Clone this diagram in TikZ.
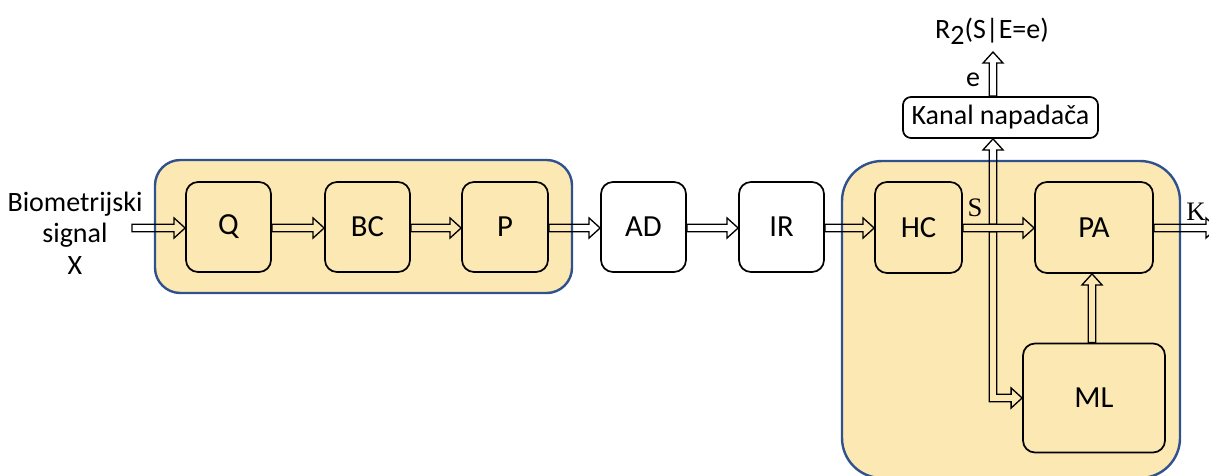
\documentclass[tikz,border=0pt]{standalone}
\usepackage{fontspec}
\setmainfont{Carlito}
\newfontfamily\serifsym{Liberation Serif}
\usetikzlibrary{arrows.meta,calc}
\definecolor{groupfill}{RGB}{252,232,178}
\definecolor{groupline}{RGB}{47,82,143}
% half shaft width, half head width, head length (pt)
\def\shw{2.8pt}
\def\hhw{7.5pt}
\def\hlen{8.3pt}
\begin{document}
\begin{tikzpicture}[x=0.75pt,y=-0.75pt,
  blk/.style={draw=black, line width=1.3pt, rounded corners=9pt, align=center,
    font=\fontsize{23}{26}\selectfont, inner sep=0pt},
  group/.style={draw=groupline, line width=1.8pt, fill=groupfill},
  outl/.style={draw=black, line width=1pt, line join=miter},
  % hollow block arrow drawn as an outline from start to target
  barrow/.style={outl, to path={
    let \p1=(\tikztostart), \p2=(\tikztotarget),
        \n1={atan2(\y2-\y1,\x2-\x1)} in
    ($(\p1)+(\n1+90:\shw)$)
    -- ($(\p2)+(\n1+180:\hlen)+(\n1+90:\shw)$)
    -- ($(\p2)+(\n1+180:\hlen)+(\n1+90:\hhw)$)
    -- (\p2)
    -- ($(\p2)+(\n1+180:\hlen)+(\n1-90:\hhw)$)
    -- ($(\p2)+(\n1+180:\hlen)+(\n1-90:\shw)$)
    -- ($(\p1)+(\n1-90:\shw)$) -- cycle}},
  lbl/.style={font=\fontsize{21}{24}\selectfont, inner sep=0pt},
  sym/.style={font=\serifsym\fontsize{20}{24}\selectfont, inner sep=0pt}]
\useasboundingbox (0,0) rectangle (1209,475);
\clip (0,0) rectangle (1209,475);

% group backgrounds
\draw[group, rounded corners=19pt] (155,160) rectangle (572,293);
\draw[group, rounded corners=30pt] (842,161) rectangle (1180,478);

% blocks of the first group
\node[blk, fill=groupfill, minimum width={85*0.75pt}, minimum height={90*0.75pt}] (Q) at (228.5,227) {Q};
\node[blk, fill=groupfill, minimum width={85*0.75pt}, minimum height={90*0.75pt}] (BC) at (367.5,227) {BC};
\node[blk, fill=groupfill, minimum width={86*0.75pt}, minimum height={90*0.75pt}] (P) at (505,227) {P};

% stand-alone blocks
\node[blk, fill=white, minimum width={85*0.75pt}, minimum height={90*0.75pt}] (AD) at (643.5,227) {AD};
\node[blk, fill=white, minimum width={85*0.75pt}, minimum height={90*0.75pt}] (IR) at (781.5,227) {IR};

% blocks of the second group
\node[blk, fill=groupfill, minimum width={87*0.75pt}, minimum height={91*0.75pt}] (HC) at (918.5,227.5) {HC};
\node[blk, fill=groupfill, minimum width={118*0.75pt}, minimum height={91*0.75pt}] (PA) at (1094,227.5) {PA};
\node[blk, fill=groupfill, minimum width={142*0.75pt}, minimum height={109*0.75pt}] (ML) at (1094,398) {ML};
\node[blk, fill=white, minimum width={195*0.75pt}, minimum height={41*0.75pt}, rounded corners=6pt,
  font=\fontsize{21}{24}\selectfont] (KN) at (1000.5,117.5) {Kanal napadača};

% input label
\node[lbl, align=center, font=\fontsize{21}{23.5}\selectfont] (in) at (75,233) {Biometrijski\\signal\\X};
\coordinate (src) at (132,228);
\coordinate (jS) at (993,228);
\coordinate (kout) at (1217,228);
\coordinate (eout) at (993,52);
\coordinate (mlx) at (1092,0);

% connectors along the main chain
\draw[barrow] (src) to (src -| Q.west);
\draw[barrow] (Q.east |- src) to (BC.west |- src);
\draw[barrow] (BC.east |- src) to (P.west |- src);
\draw[barrow] (P.east |- src) to (AD.west |- src);
\draw[barrow] (AD.east |- src) to (IR.west |- src);
\draw[barrow] (IR.east |- src) to (HC.west |- src);
\draw[barrow] (HC.east |- src) to (PA.west |- src);
\draw[barrow] (PA.east |- src) to (kout);
\draw[barrow] (ML.north -| mlx) to (PA.south -| mlx);

% branch of S: up to the attacker channel, down and right to ML
\draw[barrow] ($(jS)+(0,-3.75)$) to (jS |- KN.south);
\draw[outl] ($(jS)+(-3.75,3.75)$) -- ($(jS |- ML.west)+(-3.75,3.75)$)
  -- ($(ML.west)+(-11,3.75)$) -- ($(ML.west)+(-11,10)$) -- (ML.west)
  -- ($(ML.west)+(-11,-10)$) -- ($(ML.west)+(-11,-3.75)$)
  -- ($(jS |- ML.west)+(3.75,-3.75)$) -- ($(jS)+(3.75,3.75)$) -- cycle;
\draw[barrow] (jS |- KN.north) to (eout);

% signal labels
\node[sym] (S) at (975,208) {S};
\node[sym] (K) at (1196,212) {K};
\node[lbl] (e) at (973,80) {e};
\node[lbl] (R) at (992,31) {R\raisebox{-0.45ex}{2}(S|E=e)};
\end{tikzpicture}
\end{document}
